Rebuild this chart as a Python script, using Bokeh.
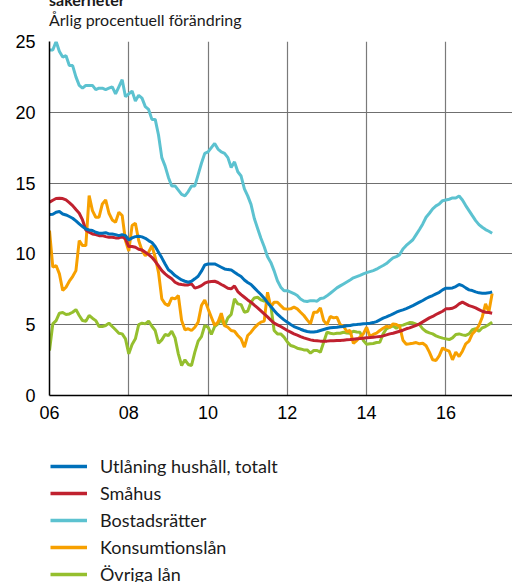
from bokeh.plotting import figure
from bokeh.layouts import column
from bokeh.models import Range1d, FixedTicker, Legend, LegendItem, Div
from bokeh.embed import file_html
from bokeh.resources import INLINE

title_tail = "säkerheter"
subtitle = "Årlig procentuell förändring"
x_ticks = [2006, 2008, 2010, 2012, 2014, 2016]
x_tick_labels = ["06", "08", "10", "12", "14", "16"]
y_ticks = [0, 5, 10, 15, 20, 25]

series_names = ["Utlåning hushåll, totalt", "Småhus", "Bostadsrätter",
                "Konsumtionslån", "Övriga lån"]
series_colors = ["#0070BA", "#C0212F", "#5CC2D0", "#F7A000", "#95BF2E"]

totalt = [12.78,12.8,12.94,12.99,12.82,12.75,12.64,12.52,12.33,12.12,11.93,11.76,
          11.69,11.65,11.53,11.46,11.46,11.5,11.41,11.41,11.36,11.29,11.36,11.29,
          10.99,11.13,11.22,11.25,11.2,11.1,10.94,10.8,10.52,10.12,9.72,9.29,
          8.88,8.7,8.47,8.31,8.16,8.07,8.0,8.07,8.24,8.42,8.78,9.22,
          9.29,9.29,9.29,9.18,9.06,8.94,8.89,8.87,8.7,8.54,8.4,8.16,
          7.98,7.84,7.6,7.36,7.13,6.87,6.56,6.28,6.0,5.74,5.53,5.34,
          5.18,5.01,4.87,4.78,4.68,4.59,4.52,4.49,4.49,4.52,4.59,4.66,
          4.73,4.78,4.8,4.82,4.85,4.87,4.92,4.94,4.99,5.01,5.04,5.06,
          5.08,5.11,5.15,5.22,5.34,5.46,5.55,5.65,5.76,5.88,5.98,6.05,
          6.14,6.24,6.35,6.47,6.59,6.71,6.85,6.96,7.06,7.18,7.29,7.46,
          7.58,7.58,7.6,7.69,7.84,7.76,7.6,7.46,7.41,7.32,7.25,7.22,
          7.22,7.25,7.32]

smahus = [13.65,13.79,13.91,13.93,13.91,13.81,13.62,13.41,13.13,12.87,12.4,11.69,
          11.53,11.41,11.36,11.29,11.29,11.22,11.18,11.18,11.13,11.13,11.22,11.06,
          10.52,10.52,10.47,10.33,10.28,10.12,9.95,9.76,9.48,9.15,8.82,8.59,
          8.4,8.24,8.0,7.88,7.84,7.81,7.81,7.88,7.58,7.65,7.76,7.93,
          8.02,8.05,8.07,7.98,7.84,7.72,7.58,7.53,7.74,7.34,7.13,6.94,
          6.75,6.59,6.38,6.19,5.98,5.76,5.55,5.32,5.11,4.99,4.87,4.73,
          4.59,4.47,4.35,4.26,4.16,4.07,4.0,3.93,3.88,3.86,3.84,3.84,
          3.84,3.86,3.86,3.88,3.88,3.91,3.93,3.95,3.98,4.0,4.02,4.05,
          4.07,4.09,4.12,4.14,4.16,4.21,4.28,4.35,4.4,4.47,4.54,4.61,
          4.71,4.78,4.87,4.96,5.06,5.2,5.34,5.48,5.58,5.72,5.84,5.95,
          6.12,6.12,6.16,6.28,6.47,6.59,6.47,6.35,6.28,6.19,6.07,5.95,
          5.88,5.86,5.81]

bostadsratter = [24.4,24.4,25.0,24.3,23.9,24.0,23.3,23.3,22.5,21.9,21.7,21.9,
                 21.9,21.9,21.6,21.7,21.7,21.6,21.7,21.8,21.3,21.8,22.3,21.1,
                 21.3,21.5,20.8,21.2,21.0,20.4,20.2,19.5,19.5,18.4,16.8,16.2,
                 15.4,14.8,14.8,14.5,14.2,14.1,14.4,14.8,14.8,15.6,16.4,17.1,
                 17.2,17.5,17.8,17.4,17.2,17.1,16.8,16.1,16.5,15.8,15.5,14.6,
                 14.1,13.5,12.5,11.8,11.1,10.5,9.8,9.4,8.8,8.1,7.65,7.4,
                 7.4,7.3,7.2,7.06,6.82,6.68,6.64,6.7,6.7,6.66,6.85,6.89,
                 7.04,7.22,7.41,7.6,7.74,7.88,8.02,8.16,8.31,8.4,8.49,8.59,
                 8.68,8.75,8.82,8.92,9.06,9.18,9.32,9.53,9.72,9.81,9.95,10.35,
                 10.6,10.8,11.0,11.36,11.72,12.12,12.59,12.87,13.18,13.39,13.53,13.76,
                 13.81,13.86,13.95,13.95,14.09,13.81,13.41,13.06,12.7,12.35,12.07,11.88,
                 11.72,11.6,11.46]

konsumtion = [11.65,9.06,9.18,8.59,7.41,7.65,8.07,8.4,8.82,10.94,10.59,10.59,
              14.12,13.06,12.59,12.59,13.53,13.81,12.87,12.4,12.24,12.94,12.71,10.94,
              10.2,12.0,12.16,10.94,10.24,9.88,10.12,10.59,9.76,8.7,6.82,6.47,
              6.35,6.89,6.82,7.06,5.29,4.64,4.71,4.59,4.82,5.18,6.35,6.75,
              6.12,5.53,4.94,5.18,5.81,4.94,4.82,4.59,4.54,4.24,4.0,3.41,
              4.24,4.47,4.78,5.01,5.18,5.25,7.29,6.24,6.59,6.59,6.35,6.12,
              6.1,6.12,6.24,6.12,5.88,5.65,5.34,5.06,5.88,5.88,6.19,5.29,
              5.01,5.58,5.48,5.53,5.01,4.89,4.52,4.59,3.69,3.88,4.12,4.35,
              4.82,4.16,4.31,4.4,4.59,4.75,4.89,4.82,5.06,5.01,4.89,3.9,
              3.62,3.65,3.69,3.74,3.65,3.69,3.51,3.06,2.52,2.47,2.82,3.36,
              3.22,3.13,2.52,3.06,2.75,3.13,3.65,3.84,4.35,4.59,4.94,5.53,
              6.47,5.9,7.2]

ovriga = [3.18,5.06,5.29,5.81,5.86,5.72,5.76,5.88,6.07,5.65,5.29,5.25,
          5.65,5.46,5.29,4.87,4.87,4.94,5.11,4.87,4.64,4.4,4.35,4.0,
          2.94,3.6,4.0,5.01,5.11,5.06,5.25,4.89,4.59,3.69,3.93,4.31,
          4.24,4.54,4.07,2.94,2.12,2.52,2.19,2.12,3.06,3.84,4.16,4.94,
          4.82,4.31,4.87,5.06,5.34,4.94,5.48,5.72,6.82,6.47,6.42,5.88,
          5.95,6.59,6.89,6.94,6.75,6.66,6.75,6.35,4.59,4.35,4.35,4.12,
          3.78,3.53,3.46,3.34,3.29,3.22,3.22,2.99,3.18,3.18,3.06,3.76,
          4.47,4.4,4.35,4.4,4.4,4.47,4.42,4.4,4.54,4.49,4.47,3.88,
          3.62,3.65,3.67,3.74,3.76,4.35,4.71,4.82,4.92,4.75,4.94,4.97,
          5.06,5.15,5.13,5.04,5.01,4.71,4.52,4.42,4.35,4.21,4.12,4.05,
          4.0,3.95,4.07,4.31,4.35,4.28,4.24,4.35,4.64,4.71,4.54,4.78,
          4.87,5.01,5.18]

start_year = 2006
months = [start_year + i / 12 for i in range(len(totalt))]

# ---------------- heading (top of title is cropped, as in the reference) ----
head = Div(
    text=(
        '<div style="position:relative;width:512px;height:31px;overflow:hidden;'
        'font-family:Lato;color:#1a1a1a;">'
        '<div style="position:absolute;left:49px;top:-8px;font-weight:bold;'
        'font-size:16px;line-height:16px;white-space:nowrap;">' + title_tail + '</div>'
        '<div style="position:absolute;left:49px;top:12px;font-size:16px;'
        'line-height:16px;white-space:nowrap;">' + subtitle + '</div>'
        '</div>'
    ),
    width=512, height=31, margin=0,
    styles={"overflow": "hidden"},
)

# ---------------- main chart ----------------
p = figure(width=512, height=409, output_backend="svg", toolbar_location=None,
           x_range=Range1d(2006, 2017.68), y_range=Range1d(0, 25), title=None,
           min_border_left=49, min_border_right=0, min_border_top=10,
           min_border_bottom=45)
p.outline_line_color = None
p.background_fill_color = "white"

for ax in (p.xaxis[0], p.yaxis[0]):
    ax.axis_line_color = "black"
    ax.axis_line_width = 1.5
    ax.major_tick_line_color = None
    ax.minor_tick_line_color = None
    ax.major_tick_out = 0
    ax.major_tick_in = 0
    ax.major_label_text_font = "Liberation Sans"
    ax.major_label_text_font_size = "18px"
    ax.major_label_text_color = "black"

p.xaxis[0].ticker = FixedTicker(ticks=x_ticks)
p.xaxis[0].major_label_overrides = {t: l for t, l in zip(x_ticks, x_tick_labels)}
p.xaxis[0].major_label_standoff = 10
p.yaxis[0].ticker = FixedTicker(ticks=y_ticks)
p.yaxis[0].major_label_standoff = 14

p.xgrid.grid_line_color = "#7a7a7a"
p.ygrid.grid_line_color = "#6f6f6f"
p.xgrid.grid_line_width = 1.2
p.ygrid.grid_line_width = 1.2

data = {0: totalt, 1: smahus, 2: bostadsratter, 3: konsumtion, 4: ovriga}
draw_order = [4, 3, 2, 1, 0]
for k in draw_order:
    p.line(months, data[k], line_color=series_colors[k], line_width=3)

# ---------------- legend panel ----------------
lg = figure(width=512, height=142, output_backend="svg", toolbar_location=None,
            x_range=Range1d(0, 1), y_range=Range1d(0, 1),
            x_axis_type=None, y_axis_type=None, title=None,
            min_border_left=49, min_border_right=0, min_border_top=0,
            min_border_bottom=0)
lg.outline_line_color = None
lg.xgrid.visible = False
lg.ygrid.visible = False
# swatch renderers lie outside the visible range; only their legend glyphs show
swatches = [lg.line([5, 6], [5, 5], line_color=series_colors[k], line_width=3.5)
            for k in range(5)]
items = [LegendItem(label=series_names[k], renderers=[swatches[k]]) for k in range(5)]
legend = Legend(items=items, location=(1, -3), orientation="vertical",
                glyph_width=37, glyph_height=20, label_height=20,
                label_standoff=13, spacing=5, padding=0, margin=0,
                border_line_color=None, background_fill_alpha=0,
                label_text_font="Lato", label_text_font_size="18px",
                label_text_color="#1a1a1a")
lg.add_layout(legend)

layout = column(head, p, lg, spacing=0)
open("out.html", "w").write(file_html(layout, INLINE))
